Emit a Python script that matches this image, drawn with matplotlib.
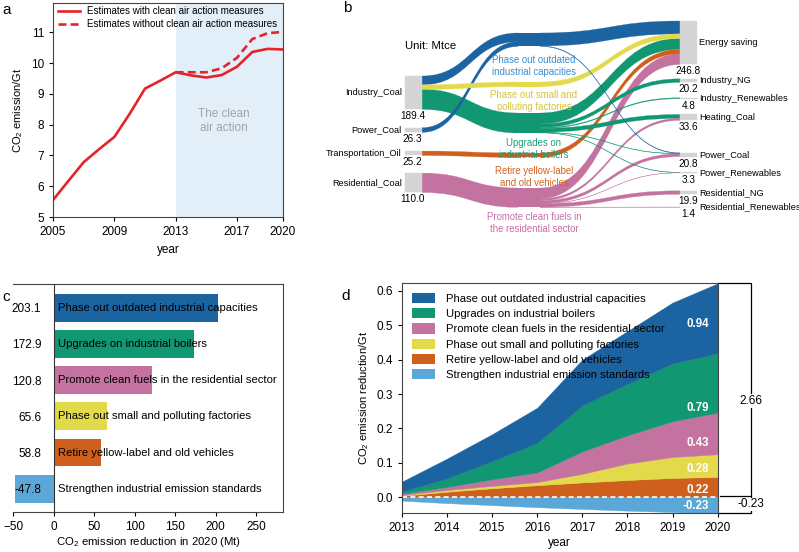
import matplotlib.pyplot as plt
from matplotlib.path import Path
from matplotlib.patches import PathPatch, Patch, Rectangle

plt.rcParams['font.family'] = ['Liberation Sans', 'DejaVu Sans']
plt.rcParams['mathtext.default'] = 'regular'
plt.rcParams['axes.linewidth'] = 0.8
plt.rcParams['axes.edgecolor'] = '#444444'
plt.rcParams['xtick.labelsize'] = 8.5
plt.rcParams['ytick.labelsize'] = 8.5
plt.rcParams['xtick.major.size'] = 3
plt.rcParams['ytick.major.size'] = 3

W, H = 799, 552

# ---------------- panel a data ----------------
years = list(range(2005, 2021))
co2_with = [5.55, 6.17, 6.78, 7.20, 7.60, 8.35, 9.17, 9.43, 9.70, 9.60,
            9.53, 9.61, 9.88, 10.36, 10.46, 10.44]
years_without = list(range(2013, 2021))
co2_without = [9.70, 9.70, 9.70, 9.83, 10.17, 10.78, 10.97, 11.01]

# ---------------- panel b data (Mtce) ----------------
left_nodes = ['Industry_Coal', 'Power_Coal', 'Transportation_Oil',
              'Residential_Coal']
left_values = [189.4, 26.3, 25.2, 110.0]
mid_labels = ['Phase out outdated\nindustrial capacities',
              'Phase out small and\npolluting factories',
              'Upgrades on\nindustrial boilers',
              'Retire yellow-label\nand old vehicles',
              'Promote clean fuels in\nthe residential sector']
right_nodes = ['Energy saving', 'Industry_NG', 'Industry_Renewables',
               'Heating_Coal', 'Power_Coal', 'Power_Renewables',
               'Residential_NG', 'Residential_Renewables']
right_values = [246.8, 20.2, 4.8, 33.6, 20.8, 3.3, 19.9, 1.4]
# (source node, measure, value)
in_flows = [(0, 0, 50.0), (1, 0, 26.3), (0, 1, 26.0), (0, 2, 113.4),
            (2, 3, 25.2), (3, 4, 110.0)]
# (measure, target node, value)
out_flows = [(0, 0, 73.3), (0, 4, 3.0),
             (1, 0, 26.0),
             (2, 0, 62.0), (2, 1, 20.2), (2, 2, 4.8), (2, 3, 22.0),
             (2, 4, 2.2), (2, 5, 2.2),
             (3, 0, 25.2),
             (4, 0, 60.4), (4, 3, 11.6), (4, 4, 15.6), (4, 5, 1.1),
             (4, 6, 19.9), (4, 7, 1.4)]

# ---------------- panel c / d data ----------------
measures = ['Phase out outdated industrial capacities',
            'Upgrades on industrial boilers',
            'Promote clean fuels in the residential sector',
            'Phase out small and polluting factories',
            'Retire yellow-label and old vehicles',
            'Strengthen industrial emission standards']
reduction_2020 = [203.1, 172.9, 120.8, 65.6, 58.8, -47.8]

years_d = list(range(2013, 2021))
outdated = [0.029, 0.057, 0.078, 0.102, 0.133, 0.153, 0.177, 0.203]
boilers = [0.006, 0.025, 0.053, 0.086, 0.134, 0.150, 0.168, 0.173]
residential = [0.004, 0.009, 0.019, 0.028, 0.065, 0.082, 0.104, 0.121]
small_factories = [0.002, 0.005, 0.007, 0.009, 0.025, 0.048, 0.061, 0.066]
vehicles = [0.004, 0.016, 0.026, 0.035, 0.043, 0.050, 0.056, 0.059]
standards = [-0.010, -0.017, -0.023, -0.029, -0.034, -0.039, -0.043, -0.048]
cumulative = ['0.94', '0.79', '0.43', '0.28', '0.22', '-0.23']
cumulative_y = [0.505, 0.259, 0.159, 0.081, 0.021, -0.025]
total_pos, total_neg = '2.66', '-0.23'

# colours
BLUE, GREEN, PINK = '#1b63a1', '#119872', '#c4729f'
YELLOW, ORANGE, LBLUE = '#e3da4b', '#cf5f1c', '#5ba7d8'
measure_colors = [BLUE, GREEN, PINK, YELLOW, ORANGE, LBLUE]
# sankey measure order: outdated, small, boilers, vehicles, residential
flow_colors = [BLUE, YELLOW, GREEN, ORANGE, PINK]
mid_text_colors = ['#3a8ccf', '#d6c33c', '#1a9e78', '#d2651f', '#c96fa6']
RED = '#e3242b'
GREY = '#d4d4d4'

fig = plt.figure(figsize=(W / 100, H / 100), dpi=100)


def fig_text(x, y, s, **kw):
    fig.text(x / W, 1 - y / H, s, **kw)


# ================= panel a =================
ax_a = fig.add_axes([53 / W, 1 - 217 / H, 230 / W, 214 / H])
ax_a.axvspan(2013, 2020, color='#e3eff8', lw=0, zorder=0)
ax_a.plot(years, co2_with, color=RED, lw=1.9,
          label='Estimates with clean air action measures')
ax_a.plot(years_without, co2_without, color=RED, lw=1.9, ls=(0, (3, 1.6)),
          label='Estimates without clean air action measures')
ax_a.set_xlim(2005, 2020)
ax_a.set_ylim(5, 11.95)
ax_a.set_xticks([2005, 2009, 2013, 2017, 2020])
ax_a.set_yticks(range(5, 12))
ax_a.set_xlabel('year', fontsize=8.5)
ax_a.set_ylabel('CO$_2$ emission/Gt', fontsize=8)
ax_a.text(2016.15, 8.12, 'The clean\nair action', color='#a3a3a3',
          fontsize=8.5, ha='center', va='center')
ax_a.legend(loc='upper left', bbox_to_anchor=(0.01, 1.0), frameon=False,
            fontsize=7, handlelength=2.2, handletextpad=0.8,
            borderpad=0.2, borderaxespad=0.1, labelspacing=0.35)
fig_text(2, 10, 'a', fontsize=11, va='center')

# ================= panel b (sankey) =================
ax_b = fig.add_axes([340 / W, 1 - 240 / H, 459 / W, 240 / H])
ax_b.set_xlim(340, 799)
ax_b.set_ylim(240, 0)
ax_b.axis('off')

SCALE = 0.176            # pixels per Mtce
X_LEFT, X_MID, X_RIGHT = 405, 518, 680
NODE_W, MID_W = 17, 22
left_top, left_gaps = 76, [18.4, 18.7, 17.6]
mid_top, mid_gaps = 33, [35.6, 26.4, 20.0, 30.6]
right_top, right_gaps = 21, [14.4, 15.4, 15.8, 32.5, 15.8, 17.9, 12.7]
mid_label_pad = [9, 3.5, 5, 8.6, 5]


def stack_nodes(top, heights, gaps):
    tops, y = [], top
    for h, g in zip(heights, gaps + [0]):
        tops.append(y)
        y += h + g
    return tops


left_h = [sum(v for s, m, v in in_flows if s == i) * SCALE
          for i in range(len(left_nodes))]
mid_h = [sum(v for s, m, v in in_flows if m == j) * SCALE
         for j in range(len(mid_labels))]
right_h = [sum(v for m, t, v in out_flows if t == k) * SCALE
           for k in range(len(right_nodes))]
left_y = stack_nodes(left_top, left_h, left_gaps)
mid_y = stack_nodes(mid_top, mid_h, mid_gaps)
right_y = stack_nodes(right_top, right_h, right_gaps)


def band(x0, y0, x1, y1, h, color):
    xm = (x0 + x1) / 2
    verts = [(x0, y0), (xm, y0), (xm, y1), (x1, y1),
             (x1, y1 + h), (xm, y1 + h), (xm, y0 + h), (x0, y0 + h),
             (x0, y0)]
    codes = [Path.MOVETO, Path.CURVE4, Path.CURVE4, Path.CURVE4,
             Path.LINETO, Path.CURVE4, Path.CURVE4, Path.CURVE4,
             Path.CLOSEPOLY]
    ax_b.add_patch(PathPatch(Path(verts, codes), facecolor=color,
                             edgecolor=color, lw=0.2))


links = []
off_l, off_mi = list(left_y), list(mid_y)
for s, m, v in in_flows:
    h = v * SCALE
    links.append((X_LEFT + NODE_W, off_l[s], X_MID, off_mi[m], h,
                  flow_colors[m]))
    off_l[s] += h
    off_mi[m] += h
off_mo, off_r = list(mid_y), list(right_y)
for m, t, v in out_flows:
    h = v * SCALE
    links.append((X_MID + MID_W, off_mo[m], X_RIGHT, off_r[t], h,
                  flow_colors[m]))
    off_mo[m] += h
    off_r[t] += h
for x0, y0, x1, y1, h, c in sorted(links, key=lambda l: -l[4]):
    band(x0, y0, x1, y1, h, c)

for j, (y, h) in enumerate(zip(mid_y, mid_h)):
    ax_b.add_patch(Rectangle((X_MID - 0.5, y), MID_W + 1, h,
                             facecolor=flow_colors[j], lw=0))
    ax_b.text(X_MID + 16, y + h + mid_label_pad[j], mid_labels[j],
              color=mid_text_colors[j], fontsize=6.9, ha='center',
              va='top', linespacing=1.2)

for name, val, y, h in zip(left_nodes, left_values, left_y, left_h):
    ax_b.add_patch(Rectangle((X_LEFT, y), NODE_W, h, facecolor=GREY,
                             edgecolor=GREY, lw=0.3))
    ax_b.text(X_LEFT - 3, y + h / 2, name, fontsize=6.6, ha='right',
              va='center')
    ax_b.text(X_LEFT + NODE_W / 2 - 1, y + h + 2, f'{val:.1f}', fontsize=7.2,
              ha='center', va='top')

for name, val, y, h in zip(right_nodes, right_values, right_y, right_h):
    ax_b.add_patch(Rectangle((X_RIGHT, y), NODE_W, h, facecolor=GREY,
                             edgecolor=GREY, lw=0.3))
    ax_b.text(X_RIGHT + NODE_W + 2, y + h / 2, name, fontsize=6.6,
              ha='left', va='center')
    ax_b.text(X_RIGHT + NODE_W / 2, y + h + 2, f'{val:.1f}', fontsize=7.2,
              ha='center', va='top')

ax_b.text(X_LEFT, 46, 'Unit: Mtce', fontsize=8.2, ha='left', va='center')
fig_text(343, 8, 'b', fontsize=11, va='center')

# ================= panel c =================
ax_c = fig.add_axes([13.3 / W, 1 - 512.3 / H, 269.7 / W, 228.3 / H])
ypos = list(range(len(measures)))
ax_c.barh(ypos, reduction_2020, height=0.77, color=measure_colors)
ax_c.set_ylim(5.65, -0.65)
ax_c.set_xlim(-50, 283)
ax_c.spines['left'].set_position(('data', 0))
ax_c.spines['left'].set_color('#333333')
ax_c.set_yticks(ypos)
ax_c.set_yticklabels([f'{v:.1f}' for v in reduction_2020])
ax_c.tick_params(axis='y', length=0, pad=9)
ax_c.set_xticks(range(-50, 251, 50))
for y, m in zip(ypos, measures):
    ax_c.text(5.5, y, m, va='center', ha='left', fontsize=8.1)
ax_c.set_xlabel('CO$_2$ emission reduction in 2020 (Mt)', fontsize=8.2,
                labelpad=1.5)
fig_text(2, 297, 'c', fontsize=11, va='center')

# ================= panel d =================
ax_d = fig.add_axes([401.7 / W, 1 - 512.7 / H, 316 / W, 229.7 / H])
layers = [vehicles, small_factories, residential, boilers, outdated]
layer_colors = [ORANGE, YELLOW, PINK, GREEN, BLUE]
base = [0.0] * len(years_d)
for vals, col in zip(layers, layer_colors):
    top = [b + v for b, v in zip(base, vals)]
    ax_d.fill_between(years_d, base, top, color=col, lw=0.3, edgecolor=col)
    base = top
ax_d.fill_between(years_d, standards, 0, color=LBLUE, lw=0.3,
                  edgecolor=LBLUE)
ax_d.plot([2013, 2020], [0, 0], color='white', lw=1.2, ls=(0, (3, 2)))
for s, y in zip(cumulative, cumulative_y):
    ax_d.text(2019.8, y, s, color='white', fontweight='bold', fontsize=8.3,
              ha='right', va='center')
ax_d.set_xlim(2013, 2020)
ax_d.set_ylim(-0.045, 0.623)
ax_d.set_xticks(years_d)
ax_d.set_yticks([0, 0.1, 0.2, 0.3, 0.4, 0.5, 0.6])
ax_d.set_yticklabels([f'{v:.1f}' for v in ax_d.get_yticks()])
ax_d.set_xlabel('year', fontsize=8.5, labelpad=2.5)
ax_d.set_ylabel('CO$_2$ emission reduction/Gt', fontsize=8)
handles = [Patch(facecolor=c, label=m)
           for c, m in zip(measure_colors, measures)]
ax_d.legend(handles=handles, loc='upper left', frameon=False, fontsize=8.1,
            handlelength=2.1, handleheight=1.0, handletextpad=0.9,
            labelspacing=0.38)

tr = ax_d.get_yaxis_transform()
ax_d.plot([1.0, 1.104, 1.104, 1.007], [0.623, 0.623, 0.004, 0.004],
          transform=tr, clip_on=False, color='black', lw=0.9)
ax_d.plot([1.104, 1.104, 1.0], [0.004, -0.045, -0.045],
          transform=tr, clip_on=False, color='black', lw=0.9)
ax_d.text(1.104, 0.28, total_pos, transform=tr, fontsize=8.5, ha='center',
          va='center', bbox=dict(facecolor='white', edgecolor='none', pad=1))
ax_d.text(1.104, -0.021, total_neg, transform=tr, fontsize=8.5, ha='center',
          va='center', bbox=dict(facecolor='white', edgecolor='none', pad=0.5))
fig_text(341, 296, 'd', fontsize=11, va='center')

fig.savefig('out.png', dpi=100)
